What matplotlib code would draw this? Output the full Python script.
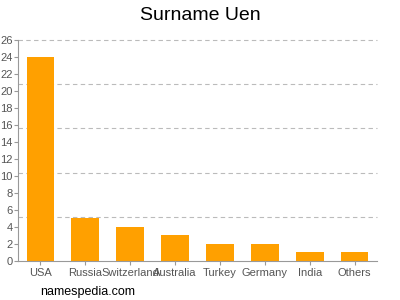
import matplotlib
matplotlib.use('Agg')
import matplotlib.pyplot as plt
import numpy as np

countries = ['USA', 'Russia', 'Switzerland', 'Australia', 'Turkey', 'Germany', 'India', 'Others']
counts = [24, 5, 4, 3, 2, 2, 1, 1]
y_ticks = list(range(0, 27, 2))
grid_levels = [5.2, 10.4, 15.6, 20.8, 26]

plt.rcParams['font.family'] = ['Liberation Sans', 'DejaVu Sans']

fig = plt.figure(figsize=(4, 3), dpi=100)
ax = fig.add_axes([0.045, 0.13, 0.8975, 0.7367])

x = np.arange(len(countries))
ax.bar(x, counts, width=0.62, color='#ffa000', zorder=2)

# dashed guide lines (behind the bars)
for lvl in grid_levels:
    ax.axhline(lvl, linestyle=(0, (4, 3)), color='#bbbbbb', linewidth=0.8, zorder=1,
               clip_on=False)

ax.set_xlim(-0.5, len(countries) - 0.5)
ax.set_ylim(0, 26)
ax.set_yticks(y_ticks)
ax.tick_params(axis='y', length=3, color='#999999', labelcolor='#555555',
               labelsize=8, pad=1)
ax.set_xticks(x)
ax.set_xticklabels(countries)
ax.tick_params(axis='x', length=3, color='#999999', labelcolor='#555555', labelsize=8, pad=2)

for s in ['top', 'right']:
    ax.spines[s].set_visible(False)
for s in ['left', 'bottom']:
    ax.spines[s].set_color('#999999')
    ax.spines[s].set_linewidth(0.8)

fig.text(0.5, 0.95, 'Surname Uen', ha='center', va='center', fontsize=14, color='#000000')
fig.text(0.1, 0.027, 'namespedia.com', ha='left', va='center', fontsize=9, color='#000000')

fig.savefig('out.png', dpi=100)
